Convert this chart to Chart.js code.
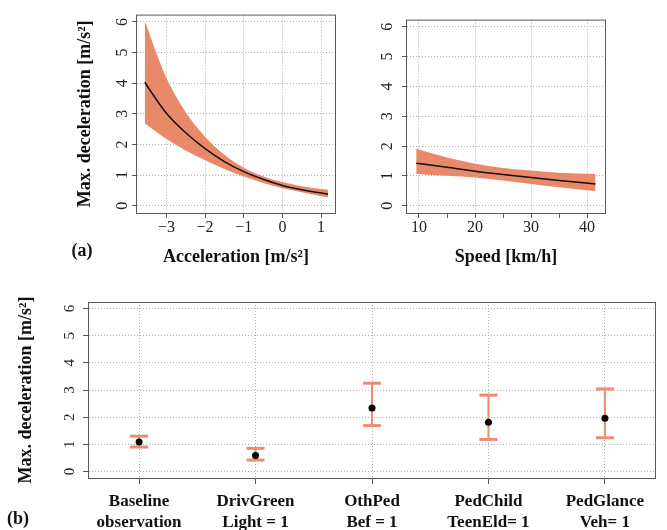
<!DOCTYPE html>
<html>
<head>
<meta charset="utf-8">
<script src="https://cdn.jsdelivr.net/npm/chart.js@4.4.0/dist/chart.umd.min.js"></script>
<style>
  body { margin: 0; background: #fff; }
  #wrap { position: relative; width: 667px; height: 530px; overflow: hidden; }
  canvas { position: absolute; }
  .tag { position: absolute; font: bold 18px "Liberation Serif", serif; color: #111; transform: translate(-50%, -50%); }
</style>
</head>
<body>
<div id="wrap">
  <canvas id="accChart" width="340" height="270" style="left:0;top:0"></canvas>
  <canvas id="speedChart" width="327" height="270" style="left:340px;top:0"></canvas>
  <canvas id="catChart" width="667" height="250" style="left:0;top:280px"></canvas>
  <div class="tag" style="left:82px;top:250px">(a)</div>
  <div class="tag" style="left:18px;top:518px">(b)</div>
</div>
<script>
// panel (a) left: acceleration
const accX = [-3.56, -3.25, -3, -2.5, -2, -1.5, -1, -0.5, 0, 0.5, 1, 1.18];
const accMid = [4.03, 3.45, 3.02, 2.38, 1.86, 1.44, 1.11, 0.86, 0.66, 0.52, 0.41, 0.38];
const accUp = [6.05, 4.95, 4.17, 3.05, 2.25, 1.66, 1.24, 0.96, 0.77, 0.63, 0.54, 0.52];
const accLo = [2.69, 2.4, 2.18, 1.8, 1.48, 1.2, 0.95, 0.74, 0.57, 0.44, 0.31, 0.27];
const accTicks = [-3, -2, -1, 0, 1];

// panel (a) right: speed
const speedX = [9.5, 15, 20, 25, 30, 35, 41.5];
const speedMid = [1.43, 1.29, 1.16, 1.05, 0.95, 0.85, 0.73];
const speedUp = [1.91, 1.62, 1.41, 1.27, 1.18, 1.11, 1.07];
const speedLo = [1.07, 1.01, 0.95, 0.85, 0.73, 0.62, 0.49];
const speedTicks = [10, 15, 20, 25, 30, 35, 40];

// panel (b)
const categories = [
  ["Baseline", "observation"],
  ["DrivGreen", "Light = 1"],
  ["OthPed", "Bef = 1"],
  ["PedChild", "TeenEld= 1"],
  ["PedGlance", "Veh= 1"]
];
const catMean = [1.09, 0.59, 2.34, 1.81, 1.96];
const catUp = [1.3, 0.85, 3.25, 2.81, 3.04];
const catLo = [0.9, 0.42, 1.69, 1.18, 1.24];

const yTicks = [0, 1, 2, 3, 4, 5, 6];
const yTitle = "Max. deceleration [m/s\u00b2]";

const band = "#e8896a";
const errCol = "#ec8d6f";
const gridCol = "#b0b0b0";
const frameCol = "#5a5a5a";
const serif = "'Liberation Serif', 'Times New Roman', serif";

const framePlugin = {
  id: "frame",
  afterDraw(chart) {
    const a = chart.chartArea;
    const ctx = chart.ctx;
    ctx.save();
    ctx.strokeStyle = frameCol;
    ctx.lineWidth = 1;
    ctx.strokeRect(a.left - 0.5, a.top + 0.5, a.right - a.left + 1, a.bottom - a.top);
    ctx.restore();
  }
};

function pts(xs, ys) {
  return xs.map((x, i) => ({ x: x, y: ys[i] }));
}

function fmt(v) {
  return v < 0 ? "\u2212" + Math.abs(v) : String(v);
}

function yScale(width, pad, fontSize, title, tl) {
  return {
    type: "linear",
    min: -0.24,
    max: 6.24,
    afterBuildTicks: s => { s.ticks = yTicks.map(v => ({ value: v })); },
    afterFit: s => { s.width = width; },
    border: { display: false, dash: [1, 2] },
    grid: { color: gridCol, tickColor: frameCol, tickLength: tl, tickWidth: 1 },
    ticks: {
      minRotation: 90,
      crossAlign: "center",
      padding: pad,
      color: "#222",
      font: { family: serif, size: fontSize }
    },
    title: title ? {
      display: true,
      text: yTitle,
      color: "#111",
      font: { family: serif, size: 18, weight: "bold" },
      padding: { top: title, bottom: 0 }
    } : { display: false }
  };
}

function bandChart(id, xs, mid, up, lo, ticks, xmin, xmax, xTitle, opts) {
  return new Chart(document.getElementById(id), {
    type: "line",
    data: {
      datasets: [
        { data: pts(xs, mid), borderColor: "#111", borderWidth: 1.5, pointRadius: 0, cubicInterpolationMode: "monotone", fill: false },
        { data: pts(xs, up), borderWidth: 0, pointRadius: 0, backgroundColor: band, cubicInterpolationMode: "monotone", fill: "+1" },
        { data: pts(xs, lo), borderWidth: 0, pointRadius: 0, cubicInterpolationMode: "monotone", fill: false }
      ]
    },
    options: {
      responsive: false,
      animation: false,
      layout: { padding: { top: 13, right: opts.right, left: 0, bottom: 0 } },
      plugins: { legend: { display: false }, tooltip: { enabled: false } },
      scales: {
        x: {
          type: "linear",
          min: xmin,
          max: xmax,
          afterBuildTicks: s => { s.ticks = ticks.map(v => ({ value: v })); },
          afterFit: s => { s.height = 57; },
          border: { display: false, dash: [1, 2] },
          grid: {
            color: c => (c.tick && c.tick.value % 10 !== 0 && opts.minor) ? "rgba(0,0,0,0)" : gridCol,
            tickColor: frameCol, tickLength: 5, tickWidth: 1
          },
          ticks: {
            autoSkip: false,
            maxRotation: 0,
            padding: 0,
            color: "#222",
            font: { family: serif, size: 16 },
            callback: v => (opts.minor && v % 10 !== 0) ? "" : fmt(v)
          },
          title: {
            display: true,
            text: xTitle,
            color: "#111",
            font: { family: serif, size: 18, weight: "bold" },
            padding: { top: 0, bottom: 1.5 }
          }
        },
        y: yScale(opts.yWidth, opts.yPad, 16, opts.yTitle, 5)
      }
    },
    plugins: [framePlugin]
  });
}

bandChart("accChart", accX, accMid, accUp, accLo, accTicks, -3.76, 1.36, "Acceleration [m/s\u00b2]",
  { right: 5, yWidth: 137, yPad: 5, yTitle: 74.2, minor: false });
bandChart("speedChart", speedX, speedMid, speedUp, speedLo, speedTicks, 7.86, 43.2, "Speed [km/h]",
  { right: 62, yWidth: 67, yPad: 10, yTitle: 0, minor: true });

// error bars: one line dataset per category, caps from the point style
const errSets = categories.map((c, i) => ({
  data: [{ x: i + 1, y: catLo[i] }, { x: i + 1, y: catUp[i] }],
  borderColor: errCol,
  borderWidth: 2,
  pointStyle: "line",
  pointRadius: 9,
  pointBorderWidth: 3,
  pointBorderColor: errCol,
  fill: false
}));

new Chart(document.getElementById("catChart"), {
  type: "line",
  data: {
    datasets: [
      {
        data: catMean.map((v, i) => ({ x: i + 1, y: v })),
        showLine: false,
        pointRadius: 3.5,
        pointBackgroundColor: "#000",
        pointBorderColor: "#000",
        pointBorderWidth: 0
      }
    ].concat(errSets)
  },
  options: {
    responsive: false,
    animation: false,
    layout: { padding: { top: 22, right: 6, left: 0, bottom: 0 } },
    plugins: { legend: { display: false }, tooltip: { enabled: false } },
    scales: {
      x: {
        type: "linear",
        min: 0.57,
        max: 5.43,
        afterBuildTicks: s => { s.ticks = categories.map((c, i) => ({ value: i + 1 })); },
        afterFit: s => { s.height = 52; },
        border: { display: false, dash: [1, 2] },
        grid: { color: gridCol, tickColor: frameCol, tickLength: 6, tickWidth: 1 },
        ticks: {
          autoSkip: false,
          maxRotation: 0,
          padding: 7.5,
          color: "#111",
          font: { family: serif, size: 17, weight: "bold", lineHeight: "21px" },
          callback: v => categories[v - 1]
        }
      },
      y: yScale(89, 9, 15, 15.2, 6)
    }
  },
  plugins: [framePlugin]
});
</script>
</body>
</html>
